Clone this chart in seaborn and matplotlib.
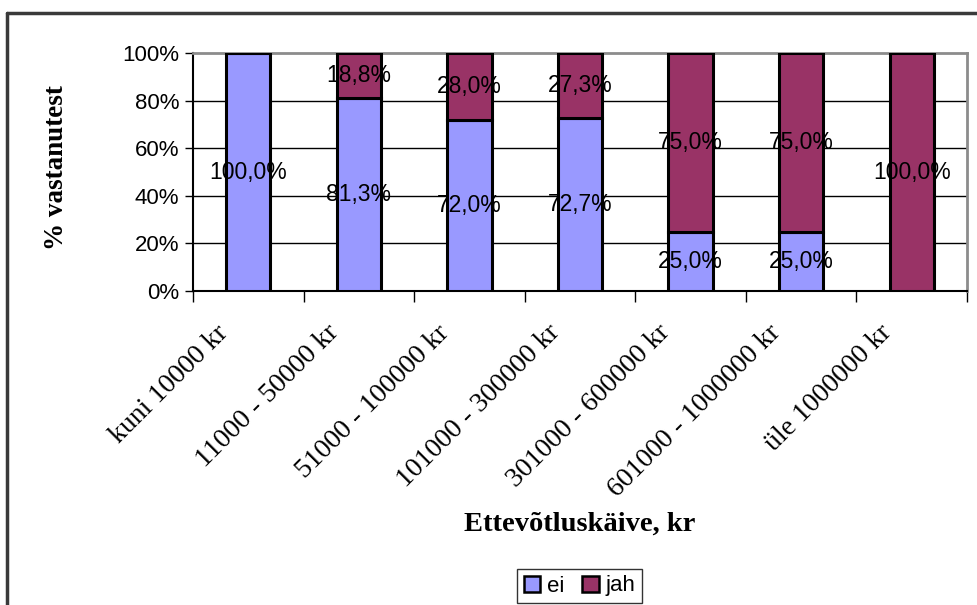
import numpy as np
import pandas as pd
import matplotlib
matplotlib.use("Agg")
import matplotlib.pyplot as plt
import matplotlib.transforms as mtransforms
from matplotlib.patches import Patch
import seaborn as sns

categories = ["kuni 10000 kr", "11000 - 50000 kr", "51000 - 100000 kr",
              "101000 - 300000 kr", "301000 - 600000 kr", "601000 - 1000000 kr",
              "üle 1000000 kr"]
ei = [100.0, 81.3, 72.0, 72.7, 25.0, 25.0, 0.0]
jah = [0.0, 18.8, 28.0, 27.3, 75.0, 75.0, 100.0]
y_ticks = [0, 20, 40, 60, 80, 100]

col_ei = "#9999FF"
col_jah = "#993366"
serif = ["Liberation Serif", "DejaVu Serif"]

sns.set_theme(style="white")
plt.rcParams["font.family"] = ["Liberation Sans", "DejaVu Sans"]
plt.rcParams["text.color"] = "black"
plt.rcParams["xtick.labelcolor"] = "black"
plt.rcParams["ytick.labelcolor"] = "black"

df = pd.DataFrame({"kat": categories, "ei": ei, "jah": jah})

fig = plt.figure(figsize=(9.77, 6.05), dpi=100)
W, H = 977, 605
ax = fig.add_axes([193 / W, 1 - 291 / H, (967 - 193) / W, (291 - 53) / H])

sns.barplot(data=df, x="kat", y="ei", order=categories, color=col_ei,
            saturation=1, width=0.4, edgecolor="black", linewidth=2.2, ax=ax,
            zorder=3)
sns.barplot(data=df, x="kat", y="jah", order=categories, color=col_jah,
            saturation=1, width=0.4, edgecolor="black", linewidth=2.2, ax=ax,
            bottom=np.array(ei), zorder=3)

# value labels in the middle of each segment
for i, (a, b) in enumerate(zip(ei, jah)):
    if a > 0:
        ax.text(i, a / 2, f"{a:.1f}%".replace(".", ","), ha="center",
                va="center", fontsize=16.5, color="black", zorder=5)
    if b > 0:
        ax.text(i, a + b / 2, f"{b:.1f}%".replace(".", ","), ha="center",
                va="center", fontsize=16.5, color="black", zorder=5)

ax.set_xlim(-0.5, len(categories) - 0.5)
ax.set_ylim(0, 100)
ax.set_yticks(y_ticks)
ax.set_yticklabels([f"{t}%" for t in y_ticks], fontsize=16, color="black")
for t in y_ticks[1:-1]:
    ax.axhline(t, color="black", linewidth=1, zorder=1)

# tick marks at the category boundaries
ax.set_xticks(np.arange(-0.5, len(categories)))
ax.set_xticklabels([])
ax.tick_params(axis="x", which="major", bottom=True, length=8, width=1,
               color="black", direction="out")
ax.tick_params(axis="y", which="major", left=True, length=6, width=1,
               color="black", direction="out", pad=4)

# slanted category names below each bar
base = mtransforms.blended_transform_factory(ax.transData, ax.transAxes)
shift = mtransforms.ScaledTranslation(-24 / 100, -38 / 100, fig.dpi_scale_trans)
for i, name in enumerate(categories):
    ax.text(i, 0, name, transform=base + shift, rotation=45, ha="right",
            va="center", rotation_mode="anchor", fontsize=20, family=serif,
            color="black", clip_on=False)

for side in ("left", "bottom"):
    ax.spines[side].set_color("black")
    ax.spines[side].set_linewidth(1.5)
for side in ("top", "right"):
    ax.spines[side].set_visible(True)
    ax.spines[side].set_color("#8c8c8c")
    ax.spines[side].set_linewidth(2)

ax.set_xlabel("")
ax.set_ylabel("")
fig.text(580 / W, 1 - 524 / H, "Ettevõtluskäive, kr", ha="center",
         va="center", fontsize=20.5, fontweight="bold", family=serif,
         color="black")
fig.text(57 / W, 1 - 168 / H, "% vastanutest", ha="center", va="center",
         rotation=90, fontsize=19.5, fontweight="bold", family=serif,
         color="black")

handles = [Patch(facecolor=col_ei, edgecolor="black", linewidth=1.8, label="ei"),
           Patch(facecolor=col_jah, edgecolor="black", linewidth=1.8, label="jah")]
leg = fig.legend(handles=handles, loc="center",
                 bbox_to_anchor=(579.5 / W, 1 - 586 / H), ncol=2,
                 frameon=True, fancybox=False, fontsize=16,
                 handlelength=0.75, handleheight=0.75, handletextpad=0.3,
                 columnspacing=0.8, borderpad=0.3, borderaxespad=0)
leg.get_frame().set_edgecolor("black")
leg.get_frame().set_linewidth(1)
for txt in leg.get_texts():
    txt.set_color("black")

# outer chart frame
fig.add_artist(plt.Line2D([7 / W, 7 / W], [0, 1 - 13 / H], transform=fig.transFigure,
                          color="#3a3a3a", linewidth=2.5))
fig.add_artist(plt.Line2D([7 / W, 1], [1 - 13 / H, 1 - 13 / H],
                          transform=fig.transFigure, color="#3a3a3a",
                          linewidth=2.5))

fig.savefig("out.png", dpi=100)
